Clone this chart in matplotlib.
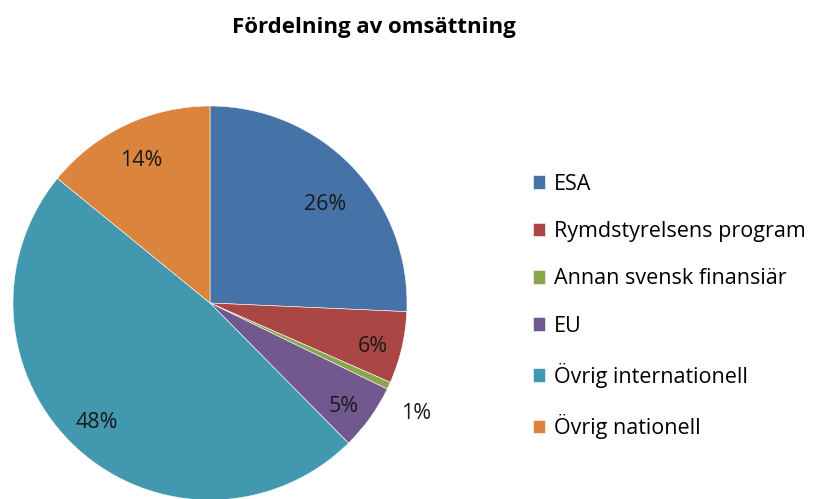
import matplotlib.pyplot as plt
import numpy as np

plt.rcParams['font.family'] = ['Open Sans', 'DejaVu Sans']

# data (percent of turnover)
categories = ["ESA", "Rymdstyrelsens program", "Annan svensk finansiär", "EU",
              "Övrig internationell", "Övrig nationell"]
shares = [25.7, 5.9, 0.6, 5.4, 48.3, 14.1]
colors = ["#4572A7", "#AA4643", "#89A54E", "#71588F", "#4198AF", "#DB843D"]

fig = plt.figure(figsize=(8.29, 4.99), dpi=100)
ax = fig.add_axes([12 / 829, -2 / 499, 396 / 829, 396 / 499])

wedges, texts, autotexts = ax.pie(
    shares, colors=colors, startangle=90, counterclock=False,
    autopct='%1.0f%%', pctdistance=0.84,
    wedgeprops=dict(edgecolor='white', linewidth=0.4),
    textprops=dict(fontsize=15.5, color='#1a1a1a'))
ax.set_xlim(-1.005, 1.005)
ax.set_ylim(-1.005, 1.005)
ax.set_aspect('equal')
for w in wedges:
    w.set_clip_on(False)

# label placement as in the original (the small slice is labelled outside)
label_pos = [(0.586, 0.50), (0.828, -0.222), (1.045, -0.56),
             (0.677, -0.525), (-0.576, -0.606), (-0.348, 0.722)]
for t, p in zip(autotexts, label_pos):
    t.set_position(p)

fig.text(0.451, 0.945, "Fördelning av omsättning", ha='center', va='center',
         fontsize=16, fontweight='bold')

fig.legend(wedges, categories, loc='upper left', bbox_to_anchor=(0.632, 0.669),
           frameon=False, fontsize=15.5, handlelength=0.6, handleheight=0.6,
           handletextpad=0.4, labelspacing=1.22, borderaxespad=0)

plt.savefig("out.png", dpi=100)
